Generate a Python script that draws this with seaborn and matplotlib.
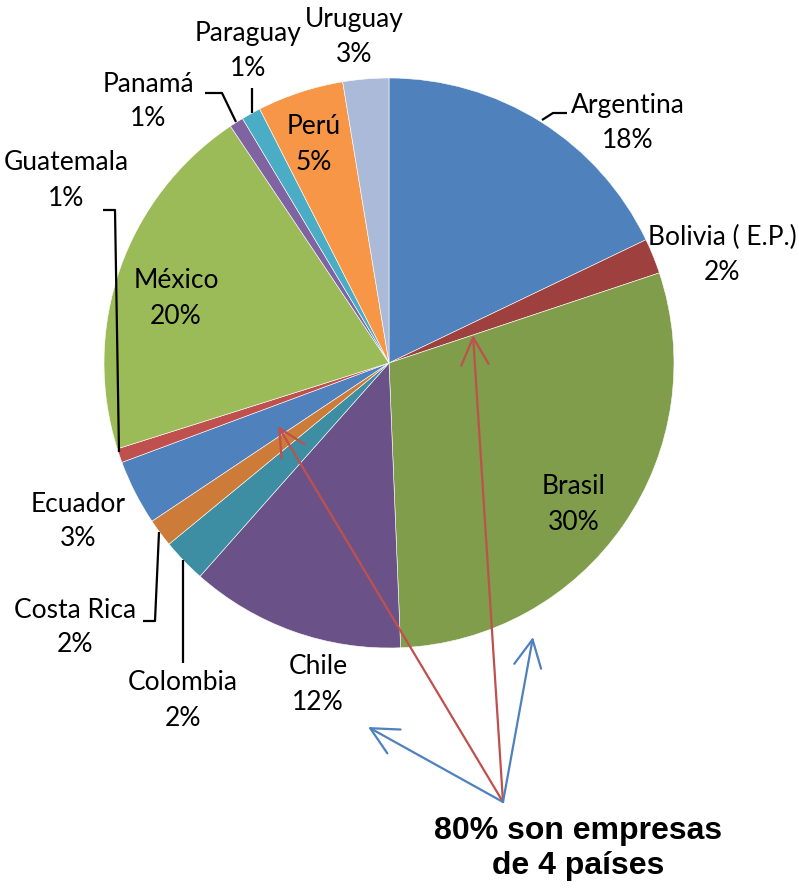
import matplotlib
matplotlib.use("Agg")
import matplotlib.pyplot as plt
import seaborn as sns

# data (share of companies per country, %)
paises = ["Argentina", "Bolivia ( E.P.)", "Brasil", "Chile", "Colombia", "Costa Rica",
          "Ecuador", "Guatemala", "México", "Panamá", "Paraguay", "Perú", "Uruguay"]
valores = [17.9, 2.0, 29.5, 12.2, 2.5, 1.6, 3.7, 0.8, 20.5, 0.8, 1.1, 4.9, 2.6]
etiquetas_pct = ["18%", "2%", "30%", "12%", "2%", "2%", "3%", "1%", "20%", "1%", "1%", "5%", "3%"]
colores = ["#4F81BD", "#9E413E", "#7F9D4A", "#6A5288", "#3D8DA3", "#CC7B38",
           "#4F81BD", "#C0504D", "#9BBB59", "#8064A2", "#4BACC6", "#F79646", "#AABAD8"]

W, H = 799, 890

def px(x, y):
    # pixel coords (origin top-left) -> axes data coords
    return x, H - y

# label centres (pixel coords, first line)
pos_lab = {"Argentina": (628, 106), "Bolivia ( E.P.)": (722, 237), "Brasil": (574, 487),
           "Chile": (318, 667), "Colombia": (183, 683), "Costa Rica": (75, 610),
           "Ecuador": (78, 504), "Guatemala": (66, 163), "México": (176, 281),
           "Panamá": (148, 84), "Paraguay": (248, 33), "Perú": (314, 127),
           "Uruguay": (354, 19)}

lineas = [[(542, 120), (553, 113), (567, 113)],
          [(205, 93), (222, 93), (236, 122)],
          [(252, 88), (252, 113)],
          [(103, 210), (115, 210), (119, 452)],
          [(143, 621), (155, 621), (159, 532)],
          [(183, 560), (183, 663)]]

sns.set_theme(style="white")
plt.rcParams["font.family"] = ["Lato", "DejaVu Sans"]
plt.rcParams["text.color"] = "black"

fig = plt.figure(figsize=(W / 100, H / 100), dpi=100)
ax = fig.add_axes([0, 0, 1, 1])

ax.pie(valores, colors=sns.color_palette(colores), startangle=90, counterclock=False,
       center=px(389, 363), radius=285,
       wedgeprops=dict(edgecolor="white", linewidth=0.4))

for p, pct in zip(paises, etiquetas_pct):
    x, y = pos_lab[p]
    ax.text(*px(x, y), p, ha="center", va="center", fontsize=19, color="black")
    ax.text(*px(x, y + 35), pct, ha="center", va="center", fontsize=19, color="black")

for ln in lineas:
    xs = [px(*q)[0] for q in ln]
    ys = [px(*q)[1] for q in ln]
    ax.plot(xs, ys, color="black", lw=1.6, solid_capstyle="butt")

origen = px(503, 802)
for tip, col in [((278, 426), "#C0504D"), ((473, 335), "#C0504D"),
                 ((368, 727), "#4F81BD"), ((533, 637), "#4F81BD")]:
    ax.annotate("", xy=px(*tip), xytext=origen,
                arrowprops=dict(arrowstyle="->,head_length=0.7,head_width=0.35",
                                color=col, lw=1.6, mutation_scale=28,
                                shrinkA=0, shrinkB=0))

ax.text(*px(578, 831), "80% son empresas", ha="center", va="center", fontsize=23,
        fontweight="bold", color="black", family=["Liberation Sans", "DejaVu Sans"])
ax.text(*px(578, 866), "de 4 países", ha="center", va="center", fontsize=23,
        fontweight="bold", color="black", family=["Liberation Sans", "DejaVu Sans"])

ax.set_xlim(0, W)
ax.set_ylim(0, H)
ax.set_aspect("equal")
ax.axis("off")

fig.savefig("out.png", dpi=100)
